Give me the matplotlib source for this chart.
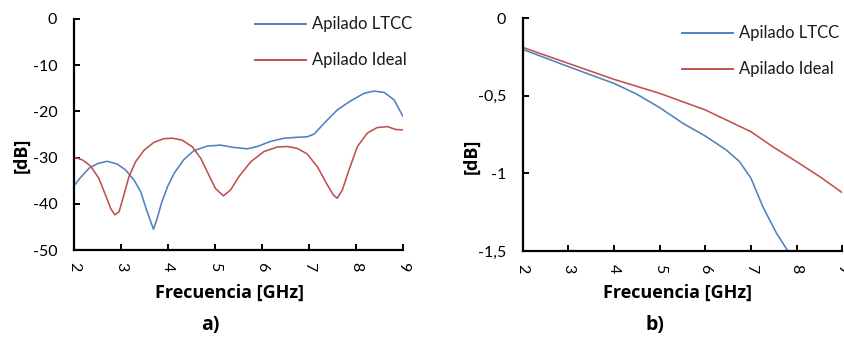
import matplotlib
matplotlib.use("Agg")
import matplotlib.pyplot as plt
from matplotlib.lines import Line2D
from matplotlib.ticker import FixedLocator, FuncFormatter

plt.rcParams['font.family'] = ['Lato', 'DejaVu Sans']
plt.rcParams['axes.unicode_minus'] = False

# ---- a) reflection, dB ----
a_ltcc_f = [2.0, 2.14, 2.32, 2.50, 2.71, 2.92, 3.10, 3.28, 3.42, 3.52, 3.62, 3.69,
            3.76, 3.86, 3.99, 4.13, 4.34, 4.55, 4.84, 5.12, 5.40, 5.69, 5.90, 6.18,
            6.47, 6.75, 6.96, 7.11, 7.32, 7.60, 7.89, 8.17, 8.38, 8.60, 8.81, 9.0]
a_ltcc_db = [-36.1, -34.3, -32.3, -31.3, -30.8, -31.4, -32.7, -34.9, -37.4, -40.6, -43.5, -45.5,
             -43.5, -39.9, -36.3, -33.4, -30.4, -28.5, -27.5, -27.3, -27.8, -28.1, -27.6, -26.5,
             -25.8, -25.6, -25.5, -24.9, -22.6, -19.7, -17.7, -16.1, -15.6, -15.9, -17.5, -21.1]

a_ideal_f = [2.0, 2.18, 2.35, 2.53, 2.67, 2.78, 2.87, 2.96, 3.05, 3.17, 3.31, 3.49,
             3.70, 3.91, 4.09, 4.30, 4.52, 4.70, 4.87, 5.01, 5.18, 5.33, 5.51, 5.76,
             6.04, 6.33, 6.54, 6.75, 6.96, 7.18, 7.39, 7.52, 7.60, 7.71, 7.85, 8.03,
             8.24, 8.45, 8.67, 8.84, 9.0]
a_ideal_db = [-29.9, -30.5, -31.8, -34.5, -38.1, -41.0, -42.4, -41.7, -38.5, -34.1, -30.9, -28.4,
              -26.7, -25.9, -25.8, -26.2, -27.7, -30.2, -33.8, -36.7, -38.3, -37.0, -34.1, -30.9,
              -28.7, -27.7, -27.6, -28.0, -29.2, -32.0, -35.9, -38.1, -38.8, -37.0, -32.7, -27.6,
              -24.7, -23.5, -23.3, -23.9, -24.0]

# ---- b) transmission, dB ----
b_ltcc_f = [2.0, 3.0, 4.0, 4.49, 5.0, 5.51, 6.0, 6.46, 6.75, 7.0, 7.26, 7.56, 7.83]
b_ltcc_db = [-0.202, -0.313, -0.421, -0.489, -0.577, -0.678, -0.760, -0.850, -0.925,
             -1.032, -1.215, -1.386, -1.51]

b_ideal_f = [2.0, 3.0, 4.0, 5.0, 6.0, 7.0, 7.48, 8.0, 8.51, 9.0]
b_ideal_db = [-0.189, -0.292, -0.395, -0.485, -0.592, -0.732, -0.829, -0.925, -1.022, -1.125]

x_ticks = [2, 3, 4, 5, 6, 7, 8, 9]
a_yticks = [0, -10, -20, -30, -40, -50]
b_yticks = [0, -0.5, -1, -1.5]
series_names = ["Apilado LTCC", "Apilado Ideal"]
xlabel = "Frecuencia [GHz]"
ylabel = "[dB]"

BLUE = "#4F81BD"
RED = "#C0504D"

W, H = 845, 338
fig = plt.figure(figsize=(W / 100, H / 100), dpi=100)


def fx(px):
    return px / W


def fy(py):
    return 1 - py / H


def style_axes(ax):
    for s in ("top", "right"):
        ax.spines[s].set_visible(False)
    for s in ("left", "bottom"):
        ax.spines[s].set_linewidth(1.6)
        ax.spines[s].set_color("black")
    ax.tick_params(axis="both", direction="in", length=4, width=1.4, color="black",
                   labelsize=11.5, labelcolor="black")
    ax.tick_params(axis="y", pad=12)
    ax.tick_params(axis="x", pad=9, labelrotation=270)
    ax.set_xlim(2, 9)
    ax.xaxis.set_major_locator(FixedLocator(x_ticks))
    for lbl in ax.get_xticklabels():
        lbl.set_verticalalignment("top")


axa = fig.add_axes([fx(74), fy(250), fx(403) - fx(74), fy(19) - fy(250)])
axa.plot(a_ltcc_f, a_ltcc_db, color=BLUE, lw=1.15, label=series_names[0])
axa.plot(a_ideal_f, a_ideal_db, color=RED, lw=1.15, label=series_names[1])
axa.set_ylim(-50, 0)
axa.yaxis.set_major_locator(FixedLocator(a_yticks))
axa.yaxis.set_major_formatter(FuncFormatter(lambda v, p: f"{v:.0f}"))
style_axes(axa)

axb = fig.add_axes([fx(522.7), fy(251), fx(842.3) - fx(522.7), fy(18) - fy(251)])
axb.plot(b_ltcc_f, b_ltcc_db, color=BLUE, lw=1.15, label=series_names[0])
axb.plot(b_ideal_f, b_ideal_db, color=RED, lw=1.15, label=series_names[1])
axb.set_ylim(-1.5, 0)
axb.yaxis.set_major_locator(FixedLocator(b_yticks))
axb.yaxis.set_major_formatter(FuncFormatter(lambda v, p: f"{v:g}".replace(".", ",")))
style_axes(axb)

# legends drawn at fixed figure positions
for (x0, x1, tx, ys) in [(255, 306, 312, (24, 60)), (682, 733, 739, (33, 69))]:
    for name, col, y in zip(series_names, (BLUE, RED), ys):
        fig.add_artist(Line2D([fx(x0), fx(x1)], [fy(y), fy(y)], color=col, lw=1.4,
                              transform=fig.transFigure))
        fig.text(fx(tx), fy(y), name, fontsize=12, va="center", ha="left", color="#1a1a1a")

# axis titles and panel tags
bold = dict(fontweight="bold", ha="center", va="center", family=["Open Sans", "DejaVu Sans"])
fig.text(fx(230), fy(293), xlabel, fontsize=13, **bold)
fig.text(fx(678), fy(293), xlabel, fontsize=13, **bold)
fig.text(fx(22), fy(155), ylabel, fontsize=13, rotation=90, **bold)
fig.text(fx(472), fy(156), ylabel, fontsize=13, rotation=90, **bold)
fig.text(fx(210), fy(325), "a)", fontsize=14, **bold)
fig.text(fx(655), fy(325), "b)", fontsize=14, **bold)

fig.savefig("out.png", dpi=100)
